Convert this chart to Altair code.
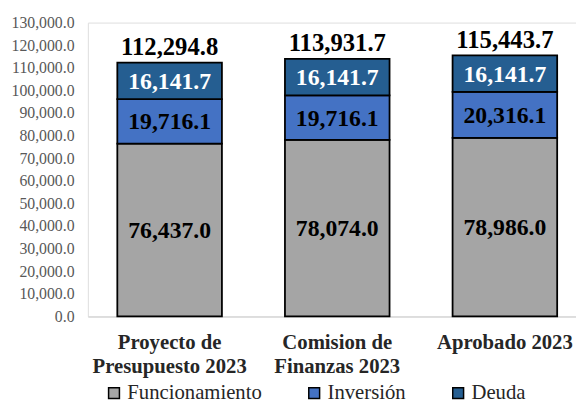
import altair as alt
import pandas as pd

categories = ["Proyecto de Presupuesto 2023", "Comision de Finanzas 2023", "Aprobado 2023"]
series = ["Funcionamiento", "Inversión", "Deuda"]
funcionamiento = [76437.0, 78074.0, 78986.0]
inversion = [19716.1, 19716.1, 20316.1]
deuda = [16141.7, 16141.7, 16141.7]
totals = [112294.8, 113931.7, 115443.7]
y_ticks = [0, 10000, 20000, 30000, 40000, 50000, 60000, 70000, 80000, 90000, 100000, 110000, 120000, 130000]
colors = ["#A5A5A5", "#4472C4", "#255E91"]

rows = []
for i, c in enumerate(categories):
    for j, (s, vals) in enumerate(zip(series, [funcionamiento, inversion, deuda])):
        rows.append({"cat": c, "serie": s, "value": vals[i], "ord": j})
df = pd.DataFrame(rows)
tot = pd.DataFrame({"cat": categories, "total": totals})

FONT = "Liberation Serif"

xscale = alt.Scale(paddingInner=0.376, paddingOuter=0.144, align=0.61)
xaxis = alt.Axis(
    labelAngle=0,
    labelFont=FONT,
    labelFontSize=21,
    labelFontWeight="bold",
    labelColor="#262626",
    labelLineHeight=24,
    labelPadding=16,
    labelOverlap=False,
    labelLimit=300,
    ticks=False,
    domainColor="#D9D9D9",
    domainWidth=1.5,
    labelExpr="datum.value == 'Proyecto de Presupuesto 2023' ? ['Proyecto de', 'Presupuesto 2023'] : datum.value == 'Comision de Finanzas 2023' ? ['Comision de', 'Finanzas 2023'] : datum.label",
)

yscale = alt.Scale(domain=[0, 130000], nice=False, zero=True)
yaxis = alt.Axis(
    values=y_ticks,
    format=",.1f",
    labelFont=FONT,
    labelFontSize=16,
    labelColor="#595959",
    labelOverlap=False,
    ticks=False,
    domain=False,
    grid=False,
    labelPadding=14,
)


def X():
    return alt.X("cat:N", sort=categories, title=None, scale=xscale, axis=xaxis)


def Y(field):
    return alt.Y(field, scale=yscale, title=None, axis=yaxis)


base = alt.Chart(df).transform_stack(
    stack="value", groupby=["cat"], sort=[alt.SortField("ord")], as_=["y0", "y1"]
).transform_calculate(mid="(datum.y0 + datum.y1) / 2")

bars = base.mark_bar(stroke="black", strokeWidth=1.8).encode(
    x=X(),
    y=Y("y0:Q"),
    y2="y1:Q",
    color=alt.Color(
        "serie:N",
        sort=series,
        scale=alt.Scale(domain=series, range=colors),
        legend=alt.Legend(
            title=None,
            orient="none",
            direction="horizontal",
            legendX=16,
            legendY=365,
            symbolType="square",
            symbolSize=121,
            symbolStrokeColor="black",
            symbolStrokeWidth=1.5,
            symbolOpacity=1,
            labelFont=FONT,
            labelFontSize=21,
            labelColor="#262626",
            labelOffset=3,
            labelLimit=300,
            columnPadding=42,
            padding=0,
        ),
    ),
    order=alt.Order("ord:Q"),
)

seg_labels = base.mark_text(
    font=FONT, fontSize=24, fontWeight="bold", baseline="middle", dy=1
).encode(
    x=X(),
    y=Y("mid:Q"),
    text=alt.Text("value:Q", format=",.1f"),
    color=alt.condition("datum.serie == 'Deuda'", alt.value("white"), alt.value("black")),
)

tot_labels = alt.Chart(tot).mark_text(
    font=FONT, fontSize=25, fontWeight="bold", baseline="alphabetic", dy=-8, color="black"
).encode(
    x=X(),
    y=Y("total:Q"),
    text=alt.Text("total:Q", format=",.1f"),
)

chart = (
    alt.layer(bars, seg_labels, tot_labels)
    .properties(
        width=495,
        height=298,
        autosize=alt.AutoSizeParams(type="none"),
        padding={"left": 81, "top": 12, "right": 0, "bottom": 84},
    )
    .configure_view(stroke=None)
    .configure(background="white")
)

chart.save("out.html", embed_options={"renderer": "svg", "actions": False})
